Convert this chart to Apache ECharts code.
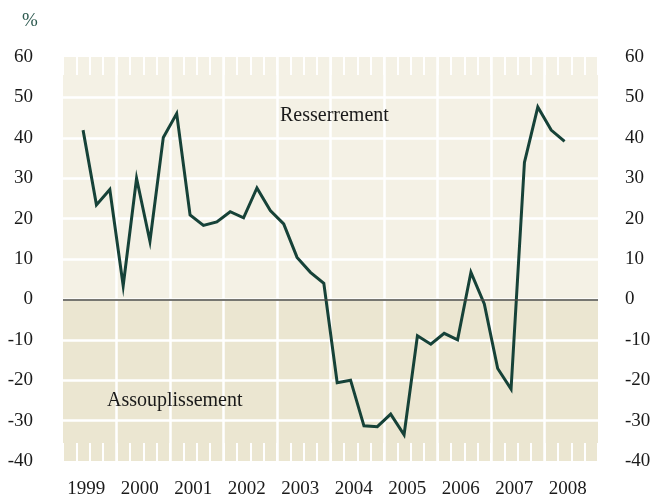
<!DOCTYPE html>
<html lang="fr">

<head>
    <meta charset="UTF-8" />
    <script src="https://cdn.jsdelivr.net/npm/echarts@6/dist/echarts.min.js"></script>
    <title>Resserrement / Assouplissement</title>
    <style>
        html, body { margin: 0; padding: 0; background: #fff; }
        #chart { width: 652px; height: 494px; }
    </style>
</head>

<body>
    <div id="chart"></div>
    <script>
        // années affichées sur l'axe horizontal
        var years = ["1999", "2000", "2001", "2002", "2003", "2004", "2005", "2006", "2007", "2008"];
        // valeurs trimestrielles, du 2e trim. 1999 au 2e trim. 2008
        var firstQuarter = 1; // indice du trimestre de départ (0 = T1 1999)
        var values = [41.9, 23.4, 27.2, 3.4, 30.0, 14.4, 40.1, 46.0,
            20.9, 18.3, 19.2, 21.7, 20.2, 27.6, 22.0, 18.7, 10.4, 6.7, 4.0,
            -20.6, -20.0, -31.3, -31.5, -28.4, -33.5, -9.0, -11.1, -8.4, -10.0, 6.7, -1.1,
            -17.1, -22.2, 33.9, 47.6, 41.9, 39.1];
        var yTicks = [-40, -30, -20, -10, 0, 10, 20, 30, 40, 50, 60];

        var fontFam = "'Liberation Serif', 'DejaVu Serif', serif";
        var upperBg = "#f4f1e5";
        var lowerBg = "#ebe6d1";
        var nQuarters = years.length * 4;

        // point au milieu de chaque trimestre
        var points = [];
        for (var i = 0; i < values.length; i++) {
            points.push([firstQuarter + i + 0.5, values[i]]);
        }

        // bandes de fond : sous zéro plus foncé
        var bands = [];
        for (var k = 0; k < yTicks.length - 1; k++) {
            bands.push(yTicks[k] < 0 ? lowerBg : upperBg);
        }

        var yLabel = { color: "#1a1a1a", fontFamily: fontFam, fontSize: 19, padding: [4, 0, 0, 0] };

        var myChart = echarts.init(document.getElementById("chart"));
        var option = {
            animation: false,
            backgroundColor: "#fff",
            grid: { left: 63, right: 54, top: 57, bottom: 33, outerBoundsMode: "none", containLabel: false },
            xAxis: [
                {   // libellés des années
                    type: "value", position: "bottom", min: 0, max: nQuarters, interval: 2,
                    axisLine: { show: false }, axisTick: { show: false }, splitLine: { show: false },
                    axisLabel: {
                        margin: 19, color: "#1a1a1a", fontFamily: fontFam, fontSize: 19,
                        padding: [0, 7, 0, 0],
                        formatter: function (v) {
                            if (v % 4 == 2) return years[(v - 2) / 4];
                            return "";
                        }
                    }
                },
                {   // séparations annuelles
                    type: "value", position: "bottom", min: 0, max: nQuarters, interval: 4,
                    axisLine: { show: false }, axisTick: { show: false }, axisLabel: { show: false },
                    splitLine: { show: true, showMinLine: false, showMaxLine: false, lineStyle: { color: "#fff", width: 2.5 } }
                },
                {   // petits traits trimestriels en bas
                    type: "value", position: "bottom", min: 0, max: nQuarters, interval: 1,
                    axisLine: { show: false }, axisLabel: { show: false }, splitLine: { show: false },
                    axisTick: { show: true, inside: true, length: 18, lineStyle: { color: "#fff", width: 2 } }
                },
                {   // petits traits trimestriels en haut
                    type: "value", position: "top", min: 0, max: nQuarters, interval: 1,
                    axisLine: { show: false }, axisLabel: { show: false }, splitLine: { show: false },
                    axisTick: { show: true, inside: true, length: 18, lineStyle: { color: "#fff", width: 2 } }
                }
            ],
            yAxis: [
                {
                    type: "value", position: "left", min: yTicks[0], max: yTicks[yTicks.length - 1], interval: 10,
                    axisLine: { show: false }, axisTick: { show: false },
                    axisLabel: Object.assign({ margin: 30 }, yLabel),
                    splitLine: { show: true, showMinLine: false, showMaxLine: false, lineStyle: { color: "#fff", width: 2.5 } },
                    splitArea: { show: true, areaStyle: { color: bands } }
                },
                {
                    type: "value", position: "right", min: yTicks[0], max: yTicks[yTicks.length - 1], interval: 10,
                    axisLine: { show: false }, axisTick: { show: false },
                    axisLabel: Object.assign({ margin: 27 }, yLabel),
                    splitLine: { show: false }
                }
            ],
            series: [
                {
                    type: "line",
                    data: points,
                    xAxisIndex: 0,
                    yAxisIndex: 0,
                    symbol: "none",
                    lineStyle: { color: "#164238", width: 3, join: "miter" },
                    markLine: {
                        silent: true,
                        symbol: "none",
                        label: { show: false },
                        lineStyle: { color: "#4a4a44", width: 1.5, type: "solid" },
                        data: [{ yAxis: 0 }]
                    },
                    z: 3
                }
            ],
            graphic: [
                {
                    type: "text", left: 22, top: 12, z: 100,
                    style: { text: "%", fill: "#2d5a50", fontFamily: fontFam, fontSize: 19 }
                },
                {
                    type: "text", left: 280, top: 106, z: 100,
                    style: { text: "Resserrement", fill: "#1a1a1a", fontFamily: fontFam, fontSize: 20 }
                },
                {
                    type: "text", left: 107, top: 391, z: 100,
                    style: { text: "Assouplissement", fill: "#1a1a1a", fontFamily: fontFam, fontSize: 20 }
                }
            ]
        };
        myChart.setOption(option);
    </script>
</body>

</html>
